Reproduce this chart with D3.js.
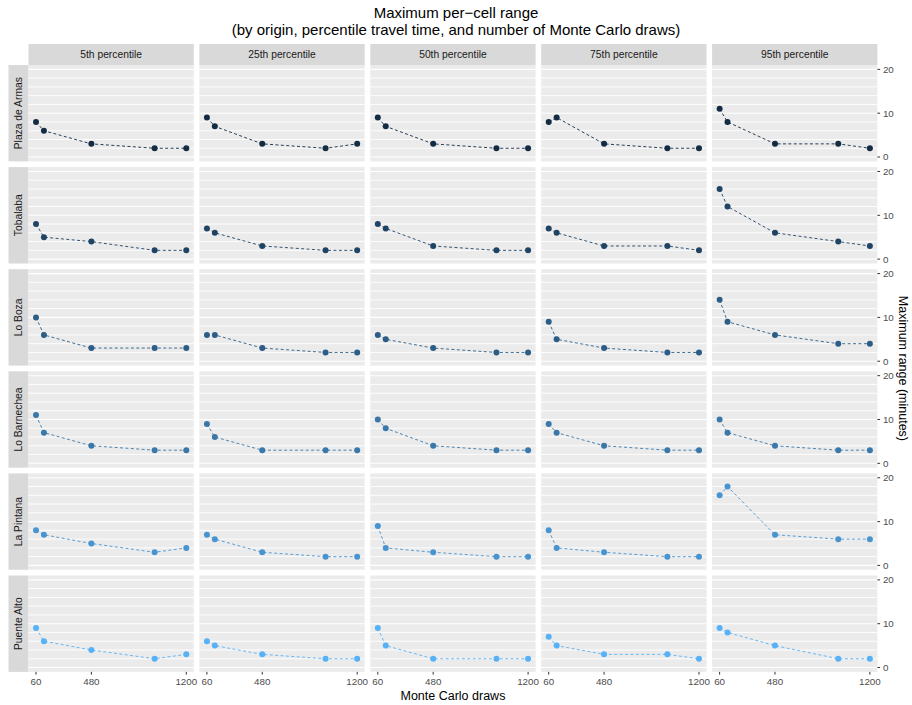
<!DOCTYPE html>
<html>
<head>
<meta charset="utf-8">
<script src="https://cdn.jsdelivr.net/npm/d3@7"></script>
<style>
  html, body { margin: 0; padding: 0; background: #fff; }
  svg { display: block; font-family: "Liberation Sans", Arial, Helvetica, sans-serif; }
</style>
</head>
<body>
<svg id="chart" width="912" height="705"></svg>
<script>
// ---------- data ----------
const draws = [60, 120, 480, 960, 1200];
const percentiles = ["5th percentile", "25th percentile", "50th percentile", "75th percentile", "95th percentile"];
const origins = ["Plaza de Armas", "Tobalaba", "Lo Boza", "Lo Barnechea", "La Pintana", "Puente Alto"];
const xTicks = [60, 480, 1200];
const yTicks = [0, 10, 20];

// values[percentile] -> max range at each draws value
const plazaDeArmas = [[8, 6, 3, 2, 2], [9, 7, 3, 2, 3], [9, 7, 3, 2, 2], [8, 9, 3, 2, 2], [11, 8, 3, 3, 2]];
const tobalaba     = [[8, 5, 4, 2, 2], [7, 6, 3, 2, 2], [8, 7, 3, 2, 2], [7, 6, 3, 3, 2], [16, 12, 6, 4, 3]];
const loBoza       = [[10, 6, 3, 3, 3], [6, 6, 3, 2, 2], [6, 5, 3, 2, 2], [9, 5, 3, 2, 2], [14, 9, 6, 4, 4]];
const loBarnechea  = [[11, 7, 4, 3, 3], [9, 6, 3, 3, 3], [10, 8, 4, 3, 3], [9, 7, 4, 3, 3], [10, 7, 4, 3, 3]];
const laPintana    = [[8, 7, 5, 3, 4], [7, 6, 3, 2, 2], [9, 4, 3, 2, 2], [8, 4, 3, 2, 2], [16, 18, 7, 6, 6]];
const puenteAlto   = [[9, 6, 4, 2, 3], [6, 5, 3, 2, 2], [9, 5, 2, 2, 2], [7, 5, 3, 3, 2], [9, 8, 5, 2, 2]];
const seriesByOrigin = [plazaDeArmas, tobalaba, loBoza, loBarnechea, laPintana, puenteAlto];

// ---------- layout ----------
const svg = d3.select("#chart");
const W = 912, H = 705;
const panelLeft = 28.5, panelW = 165.3, gapX = 5.6;
const panelTop = 65, panelH = 96.4, gapY = 5.7;
const stripTopH = 21, stripLeftW = 20;
const rightEdge = panelLeft + 5 * panelW + 4 * gapX;
const bottomEdge = panelTop + 6 * panelH + 5 * gapY;

const color = d3.scaleSequential(d3.interpolateLab("#132B43", "#56B1F7")).domain([0, origins.length - 1]);

const x = d3.scaleLinear().domain([60 - 57, 1200 + 57]).range([0, panelW]);
const y = d3.scaleLinear().domain([-1, 21]).range([panelH, 0]);

// title
svg.append("text").attr("x", W / 2).attr("y", 17.5).attr("text-anchor", "middle")
  .attr("font-size", 15).attr("fill", "#000").text("Maximum per\u2212cell range");
svg.append("text").attr("x", W / 2).attr("y", 34.5).attr("text-anchor", "middle")
  .attr("font-size", 15).attr("fill", "#000").text("(by origin, percentile travel time, and number of Monte Carlo draws)");

// column strips
percentiles.forEach((p, j) => {
  const px = panelLeft + j * (panelW + gapX);
  svg.append("rect").attr("x", px).attr("y", panelTop - stripTopH).attr("width", panelW).attr("height", stripTopH).attr("fill", "#D9D9D9");
  svg.append("text").attr("x", px + panelW / 2).attr("y", panelTop - stripTopH / 2).attr("dy", "0.35em")
    .attr("text-anchor", "middle").attr("font-size", 10.3).attr("fill", "#1A1A1A").text(p);
});

const lineGen = d3.line().x(d => x(d[0])).y(d => y(d[1]));
const gridVals = d3.range(0, 21, 2);

origins.forEach((o, i) => {
  const py = panelTop + i * (panelH + gapY);
  // row strip
  svg.append("rect").attr("x", panelLeft - stripLeftW).attr("y", py).attr("width", stripLeftW).attr("height", panelH).attr("fill", "#D9D9D9");
  svg.append("text").attr("transform", `translate(${panelLeft - stripLeftW / 2},${py + panelH / 2}) rotate(-90)`)
    .attr("dy", "0.35em").attr("text-anchor", "middle").attr("font-size", 10.3).attr("fill", "#1A1A1A").text(o);

  percentiles.forEach((p, j) => {
    const px = panelLeft + j * (panelW + gapX);
    const g = svg.append("g").attr("transform", `translate(${px},${py})`);
    g.append("rect").attr("width", panelW).attr("height", panelH).attr("fill", "#EBEBEB");
    g.selectAll("line.grid").data(gridVals).enter().append("line")
      .attr("x1", 0).attr("x2", panelW).attr("y1", d => y(d)).attr("y2", d => y(d))
      .attr("stroke", "#fff").attr("stroke-width", d => (d % 10 === 0 ? 1.1 : 0.9));
    const pts = draws.map((d, k) => [d, seriesByOrigin[i][j][k]]);
    g.append("path").datum(pts).attr("d", lineGen).attr("fill", "none")
      .attr("stroke", color(i)).attr("stroke-width", 0.9).attr("stroke-dasharray", "3,2.4");
    g.selectAll("circle").data(pts).enter().append("circle")
      .attr("cx", d => x(d[0])).attr("cy", d => y(d[1])).attr("r", 3).attr("fill", color(i));
  });

  // right axis
  const ax = svg.append("g").attr("transform", `translate(${rightEdge},${py})`);
  ax.selectAll("line").data(yTicks).enter().append("line")
    .attr("x1", 0).attr("x2", 2.7).attr("y1", d => y(d)).attr("y2", d => y(d)).attr("stroke", "#333").attr("stroke-width", 1);
  ax.selectAll("text").data(yTicks).enter().append("text")
    .attr("x", 5.5).attr("y", d => y(d)).attr("dy", "0.35em").attr("font-size", 9.8).attr("fill", "#4D4D4D").text(d => d);
});

// bottom axes
percentiles.forEach((p, j) => {
  const px = panelLeft + j * (panelW + gapX);
  const ax = svg.append("g").attr("transform", `translate(${px},${bottomEdge})`);
  ax.selectAll("line").data(xTicks).enter().append("line")
    .attr("x1", d => x(d)).attr("x2", d => x(d)).attr("y1", 0).attr("y2", 2.7).attr("stroke", "#333").attr("stroke-width", 1);
  ax.selectAll("text").data(xTicks).enter().append("text")
    .attr("x", d => x(d)).attr("y", 13.5).attr("text-anchor", "middle").attr("font-size", 9.8).attr("fill", "#4D4D4D").text(d => d);
});

// axis titles
svg.append("text").attr("x", panelLeft + (rightEdge - panelLeft) / 2).attr("y", 700).attr("text-anchor", "middle")
  .attr("font-size", 12.5).attr("fill", "#000").text("Monte Carlo draws");
svg.append("text").attr("transform", `translate(903,${panelTop + (bottomEdge - panelTop) / 2}) rotate(90)`)
  .attr("text-anchor", "middle").attr("dy", "0.35em").attr("font-size", 12.5).attr("fill", "#000").text("Maximum range (minutes)");
</script>
</body>
</html>
